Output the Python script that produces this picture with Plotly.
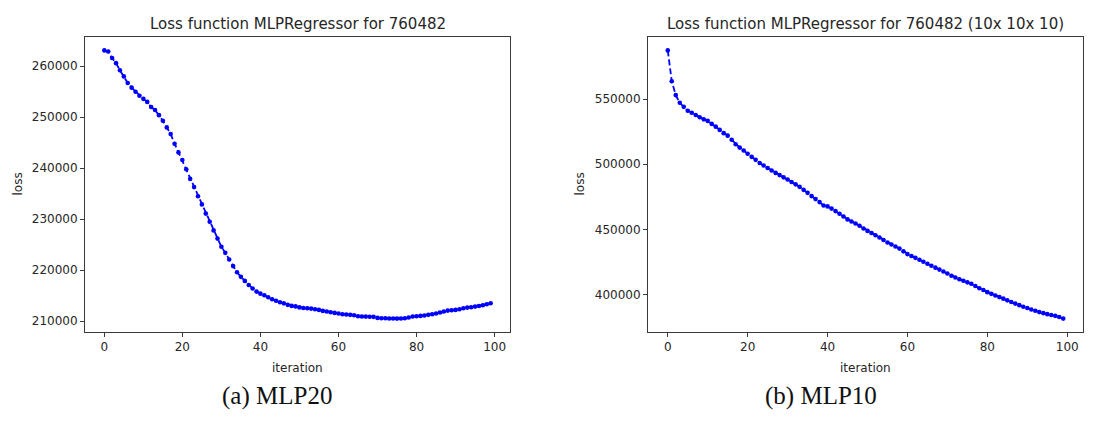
import plotly.graph_objects as go

# ---------------- data ----------------
iterations = list(range(100))

loss_mlp20 = [
    263100, 262900, 261600, 260600, 259200, 258000, 256700, 255800, 255000, 254200,
    253600, 253000, 252000, 251400, 250400, 249300, 248000, 246700, 244800, 243100,
    241600, 239800, 237900, 236300, 234500, 232900, 231100, 229500, 227800, 226200,
    224600, 223400, 222100, 220800, 219600, 218700, 217900, 217100, 216400, 215800,
    215400, 215100, 214700, 214300, 214000, 213700, 213500, 213200, 213000, 212900,
    212700, 212600, 212540, 212470, 212340, 212210, 212020, 211890, 211760, 211630,
    211500, 211370, 211300, 211240, 211170, 210980, 210910, 210900, 210880, 210850,
    210650, 210590, 210580, 210520, 210520, 210510, 210520, 210580, 210720, 210910,
    210980, 211040, 211110, 211240, 211370, 211500, 211690, 211890, 212080, 212150,
    212210, 212340, 212540, 212670, 212730, 212860, 212990, 213120, 213320, 213520,
]

loss_mlp10 = [
    587300, 563600, 553000, 547100, 544000, 541000, 539500, 537700, 536000, 534400,
    533200, 530900, 528800, 526300, 523800, 521900, 518700, 515300, 512700, 510500,
    508000, 505600, 503300, 500900, 499000, 497100, 495200, 493300, 491600, 489900,
    488200, 486300, 484500, 482600, 480300, 478000, 475500, 473200, 470900, 468300,
    467600, 465900, 464000, 461900, 459800, 457600, 456000, 454500, 452700, 450600,
    448800, 447200, 445500, 443700, 441800, 439900, 438300, 436800, 435200, 433100,
    431000, 429500, 428100, 426700, 425100, 423600, 422100, 420600, 419100, 417600,
    416100, 414400, 413000, 411700, 410500, 409300, 408200, 406500, 404800, 403400,
    401800, 400500, 399200, 398000, 396800, 395500, 394200, 393000, 391800, 390600,
    389600, 388500, 387500, 386500, 385700, 384900, 384300, 383600, 382700, 381500,
]

x_ticks = [0, 20, 40, 60, 80, 100]
y_ticks_mlp20 = [210000, 220000, 230000, 240000, 250000, 260000]
y_ticks_mlp10 = [400000, 450000, 500000, 550000]

title_mlp20 = "Loss function MLPRegressor for 760482"
title_mlp10 = "Loss function MLPRegressor for 760482 (10x 10x 10)"
caption_mlp20 = "(a) MLP20"
caption_mlp10 = "(b) MLP10"

# ---------------- figure ----------------
W, H = 1108, 428
fig = go.Figure()

def mpl_range(vals, pad=0.05):
    lo, hi = min(vals), max(vals)
    d = (hi - lo) * pad
    return [lo - d, hi + d]

line_style = dict(color="#0000ff", width=1.8, dash="6px,3px")
marker_style = dict(color="#0000ff", size=4.6, symbol="circle", line=dict(width=0))

fig.add_trace(go.Scatter(x=iterations, y=loss_mlp20, mode="lines+markers",
                         line=line_style, marker=marker_style,
                         xaxis="x", yaxis="y", showlegend=False))
fig.add_trace(go.Scatter(x=iterations, y=loss_mlp10, mode="lines+markers",
                         line=line_style, marker=marker_style,
                         xaxis="x2", yaxis="y2", showlegend=False))

# domains in pixels
L1 = (85, 510)
L2 = (648, 1083)
TOP, BOT = 37, 332
ydom = [1 - BOT / H, 1 - TOP / H]

tick_font = dict(family="DejaVu Sans", size=12, color="#262626")
axis_common = dict(showgrid=False, zeroline=False, showline=True, mirror=True,
                   linecolor="#3a3a3a", linewidth=1, ticks="outside", ticklen=4,
                   tickwidth=1, tickcolor="#3a3a3a", tickfont=tick_font)

xr = mpl_range(iterations)
fig.update_layout(
    width=W, height=H,
    margin=dict(l=0, r=0, t=0, b=0),
    paper_bgcolor="white", plot_bgcolor="white",
    xaxis=dict(domain=[L1[0] / W, L1[1] / W], range=xr, tickvals=x_ticks,
               anchor="y", **axis_common),
    yaxis=dict(domain=ydom, range=mpl_range(loss_mlp20), tickvals=y_ticks_mlp20,
               tickformat="d", anchor="x", **axis_common),
    xaxis2=dict(domain=[L2[0] / W, L2[1] / W], range=xr, tickvals=x_ticks,
                anchor="y2", **axis_common),
    yaxis2=dict(domain=ydom, range=mpl_range(loss_mlp10), tickvals=y_ticks_mlp10,
                tickformat="d", anchor="x2", **axis_common),
)

label_font = dict(family="DejaVu Sans", size=12, color="#262626")
title_font = dict(family="DejaVu Sans", size=15, color="#262626")
cap_font = dict(family="Liberation Serif", size=25, color="#111111")

def ann(text, x, y, font, angle=0):
    fig.add_annotation(text=text, x=x / W, y=1 - y / H, xref="paper", yref="paper",
                       showarrow=False, font=font, textangle=angle,
                       xanchor="center", yanchor="middle")

ann(title_mlp20, (L1[0] + L1[1]) / 2, 24, title_font)
ann(title_mlp10, (L2[0] + L2[1]) / 2, 24, title_font)
ann("iteration", (L1[0] + L1[1]) / 2, 368, label_font)
ann("iteration", (L2[0] + L2[1]) / 2, 368, label_font)
ann("loss", 17, (TOP + BOT) / 2, label_font, angle=-90)
ann("loss", 579, (TOP + BOT) / 2, label_font, angle=-90)
ann(caption_mlp20, 277, 396, cap_font)
ann(caption_mlp10, 821, 396, cap_font)

fig.write_html("out.html")
